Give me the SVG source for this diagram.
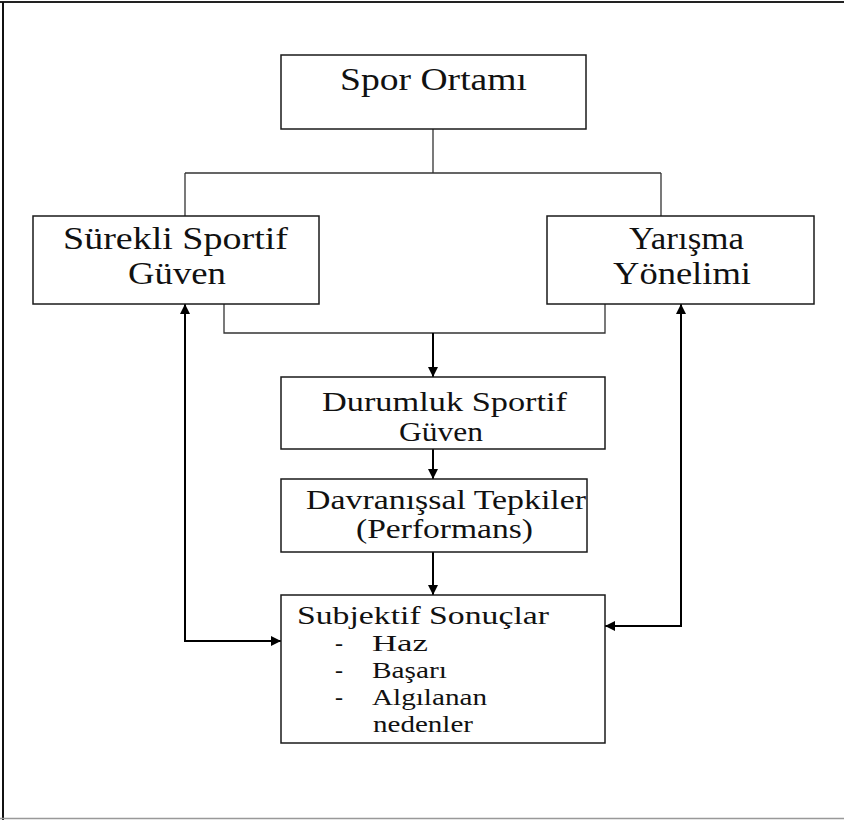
<svg xmlns="http://www.w3.org/2000/svg" width="844" height="820" viewBox="0 0 844 820">
<style>
.box{fill:#fff;stroke:#1a1a1a;stroke-width:1.5}
text{font-family:"Liberation Serif","DejaVu Serif","Times New Roman",serif;fill:#111}
.line{fill:none;stroke:#333;stroke-width:1.3}
.arr{fill:none;stroke:#000;stroke-width:2}
</style>
<defs>
<marker id="ah" viewBox="0 0 10 10" refX="10" refY="5" markerWidth="10" markerHeight="11" markerUnits="userSpaceOnUse" orient="auto-start-reverse">
<path d="M0,0 L10,5 L0,10 z" fill="#000"/>
</marker>
</defs>
<rect width="844" height="820" fill="#fff"/>
<g id="frame">
<line x1="0" y1="2" x2="844" y2="2" stroke="#222" stroke-width="2"/>
<line x1="3" y1="2" x2="3" y2="820" stroke="#111" stroke-width="2"/>
<line x1="0" y1="818.5" x2="844" y2="818.5" stroke="#999" stroke-width="1.5"/>
</g>
<g id="connectors">
<path class="line" d="M433,129 V173 M185,173 H661 M185,173 V216 M661,173 V216"/>
<path class="line" d="M224,304 V333 H605 V304"/>
<path class="arr" d="M433,333 V377" marker-end="url(#ah)"/>
<path class="arr" d="M433,449 V479" marker-end="url(#ah)"/>
<path class="arr" d="M433,552 V595" marker-end="url(#ah)"/>
<path class="arr" d="M281,641 H185 V304" marker-start="url(#ah)" marker-end="url(#ah)"/>
<path class="arr" d="M605,626 H681 V304" marker-start="url(#ah)" marker-end="url(#ah)"/>
</g>
<g id="spor-ortami">
<rect class="box" x="281" y="55" width="305" height="74"/>
<text x="340" y="90" font-size="31" textLength="187" lengthAdjust="spacingAndGlyphs">Spor Ortamı</text>
</g>
<g id="surekli">
<rect class="box" x="33" y="216" width="286" height="88"/>
<text x="63" y="249" font-size="31" textLength="225" lengthAdjust="spacingAndGlyphs">Sürekli Sportif</text>
<text x="128" y="284" font-size="31" textLength="98" lengthAdjust="spacingAndGlyphs">Güven</text>
</g>
<g id="yarisma">
<rect class="box" x="547" y="216" width="267" height="88"/>
<text x="629" y="249" font-size="31" textLength="115" lengthAdjust="spacingAndGlyphs">Yarışma</text>
<text x="613" y="284" font-size="31" textLength="138" lengthAdjust="spacingAndGlyphs">Yönelimi</text>
</g>
<g id="durumluk">
<rect class="box" x="281" y="377" width="324" height="72"/>
<text x="322" y="411" font-size="28" textLength="245" lengthAdjust="spacingAndGlyphs">Durumluk Sportif</text>
<text x="399" y="441" font-size="28" textLength="84" lengthAdjust="spacingAndGlyphs">Güven</text>
</g>
<g id="davranissal">
<rect class="box" x="281" y="479" width="306" height="73"/>
<text x="306" y="509" font-size="28" textLength="280" lengthAdjust="spacingAndGlyphs">Davranışsal Tepkiler</text>
<text x="356" y="538" font-size="28" textLength="177" lengthAdjust="spacingAndGlyphs">(Performans)</text>
</g>
<g id="subjektif">
<rect class="box" x="281" y="595" width="324" height="148"/>
<text x="297" y="624" font-size="26" textLength="252" lengthAdjust="spacingAndGlyphs">Subjektif Sonuçlar</text>
<text x="335" y="651" font-size="24">-</text>
<text x="372" y="651" font-size="24" textLength="56" lengthAdjust="spacingAndGlyphs">Haz</text>
<text x="335" y="678" font-size="24">-</text>
<text x="372" y="678" font-size="24" textLength="75" lengthAdjust="spacingAndGlyphs">Başarı</text>
<text x="335" y="705" font-size="24">-</text>
<text x="372" y="705" font-size="24" textLength="115" lengthAdjust="spacingAndGlyphs">Algılanan</text>
<text x="373" y="732" font-size="24" textLength="100" lengthAdjust="spacingAndGlyphs">nedenler</text>
</g>
</svg>
